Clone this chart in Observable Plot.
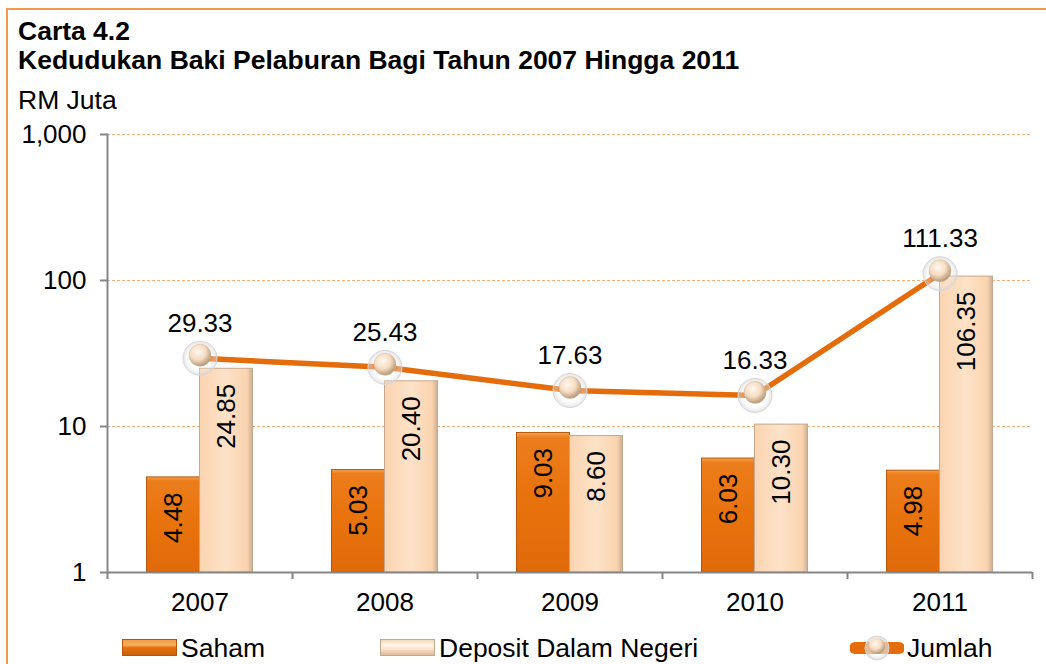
<!DOCTYPE html>
<html>
<head>
<meta charset="utf-8">
<script src="https://cdn.jsdelivr.net/npm/d3@7"></script>
<script src="https://cdn.jsdelivr.net/npm/@observablehq/plot@0.6"></script>
<style>
  html, body { margin: 0; padding: 0; background: #fff; }
  #page { position: relative; width: 1046px; height: 664px; overflow: hidden; font-family: Arial, "Liberation Sans", sans-serif; color: #000; }
  #frameL { position: absolute; left: 6px; top: 8px; width: 2px; height: 660px; background: #EE9A55; }
  #frameT { position: absolute; left: 6px; top: 8px; width: 1040px; height: 2px; background: #EE9A55; }
  .t { position: absolute; white-space: nowrap; font-size: 26.5px; line-height: 26px; }
  #chart { position: absolute; left: 0; top: 110px; }
  .leg { position: absolute; top: 634px; height: 28px; display: flex; align-items: center; font-size: 26.5px; white-space: nowrap; }
  .leg svg { margin-right: 3px; }
</style>
</head>
<body>
<div id="page">
  <div id="frameL"></div>
  <div id="frameT"></div>
  <div class="t" style="left:18px; top:18px; font-weight:bold;">Carta 4.2</div>
  <div class="t" style="left:18px; top:47px; font-weight:bold;">Kedudukan Baki Pelaburan Bagi Tahun 2007 Hingga 2011</div>
  <div class="t" style="left:18px; top:87px;">RM Juta</div>
  <div id="chart"></div>
  <div id="legend"></div>
</div>
<script>
// ---- data ----
const years = ["2007", "2008", "2009", "2010", "2011"];
const saham = [4.48, 5.03, 9.03, 6.03, 4.98];
const deposit = [24.85, 20.40, 8.60, 10.30, 106.35];
const jumlah = [29.33, 25.43, 17.63, 16.33, 111.33];
const yTicks = [1, 10, 100, 1000];
const gridTicks = [10, 100, 1000];
const seriesNames = ["Saham", "Deposit Dalam Negeri", "Jumlah"];

const data = years.map((y, i) => ({year: y, saham: saham[i], deposit: deposit[i], jumlah: jumlah[i]}));

const ORANGE = "#E46C0A";
const AXIS = "#868686";
const half = 92.5;   // half band (px)
const barW = 53;     // bar width (px)
const FONT = "Arial, 'Liberation Sans', sans-serif";

const plot = Plot.plot({
  width: 1046,
  height: 530,
  marginTop: 24,
  marginBottom: 68,
  marginLeft: 107,
  marginRight: 14,
  style: {fontFamily: FONT, fontSize: "26px", color: "#000", background: "transparent"},
  x: {type: "band", domain: years, padding: 0, label: null},
  y: {type: "log", domain: [1, 1000], label: null},
  marks: [
    Plot.ruleY(gridTicks, {stroke: "#F3B07A", strokeDasharray: "3,2", strokeWidth: 1}),
    Plot.barY(data, {x: "year", y1: () => 1, y2: "saham", insetLeft: half - barW, insetRight: half, fill: "url(#gSaham)", stroke: "#B4570C", strokeWidth: 1}),
    Plot.barY(data, {x: "year", y1: () => 1, y2: "deposit", insetLeft: half, insetRight: half - barW, fill: "url(#gDep)", stroke: "#C4A88E", strokeWidth: 1}),
    Plot.text(data, {x: "year", y: "saham", text: d => d.saham.toFixed(2), rotate: -90, textAnchor: "end", dx: -barW / 2, dy: 15, fontSize: 26, fill: "#000"}),
    Plot.text(data, {x: "year", y: "deposit", text: d => d.deposit.toFixed(2), rotate: -90, textAnchor: "end", dx: barW / 2, dy: 15, fontSize: 26, fill: "#000"}),
    Plot.ruleY([1], {stroke: AXIS, strokeWidth: 2}),
    Plot.frame({anchor: "left", stroke: AXIS, strokeWidth: 2}),
    Plot.axisY({ticks: yTicks, tickFormat: ",", tickSize: 7, tickPadding: 14, stroke: AXIS, strokeWidth: 2, fontSize: 26, fill: "#000", color: "#000", label: null}),
    Plot.axisX({tickSize: 0, tickPadding: 20, fontSize: 26, fill: "#000", color: "#000", label: null}),
    Plot.ruleX(years, {x: d => d, y1: () => 1, y2: () => 1, insetBottom: -7, dx: -half, stroke: AXIS, strokeWidth: 2}),
    Plot.ruleX(years.slice(-1), {x: d => d, y1: () => 1, y2: () => 1, insetBottom: -7, dx: half, stroke: AXIS, strokeWidth: 2}),
    Plot.line(data, {x: "year", y: "jumlah", stroke: ORANGE, strokeWidth: 5.5}),
    Plot.dot(data, {x: "year", y: "jumlah", r: 17, fill: "url(#gHalo)", stroke: "#D8D8D8", strokeWidth: 1}),
    Plot.dot(data, {x: "year", y: "jumlah", r: 11, dy: -3, fill: "url(#gBall)", stroke: "#C9B4A0", strokeWidth: 0.5}),
    Plot.text(data, {x: "year", y: "jumlah", text: d => d.jumlah.toFixed(2), dy: -35, fontSize: 26, fill: "#000"})
  ]
});

const defs = `
<linearGradient id="gSaham" x1="0" y1="0" x2="0" y2="1">
  <stop offset="0" stop-color="#F6A24E"/>
  <stop offset="0.04" stop-color="#EC7D1C"/>
  <stop offset="0.5" stop-color="#E8720C"/>
  <stop offset="1" stop-color="#E06A0A"/>
</linearGradient>
<linearGradient id="gDep" x1="0" y1="0" x2="1" y2="0">
  <stop offset="0" stop-color="#FBD4B0"/>
  <stop offset="0.5" stop-color="#FDE2C8"/>
  <stop offset="0.9" stop-color="#FAD3AE"/>
  <stop offset="1" stop-color="#C9AE96"/>
</linearGradient>
<radialGradient id="gHalo" cx="0.5" cy="0.5" r="0.5">
  <stop offset="0.6" stop-color="#FFFFFF" stop-opacity="0.2"/>
  <stop offset="1" stop-color="#D0D0D0" stop-opacity="0.6"/>
</radialGradient>
<radialGradient id="gBall" cx="0.4" cy="0.35" r="0.65">
  <stop offset="0" stop-color="#FFF8F0"/>
  <stop offset="0.55" stop-color="#F6DCC2"/>
  <stop offset="1" stop-color="#B89878"/>
</radialGradient>`;
d3.select(plot).insert("defs", ":first-child").html(defs);
document.getElementById("chart").appendChild(plot);

// ---- legend ----
const legend = document.getElementById("legend");
const legPos = [122, 380, 850];
const swatches = [
  `<svg width="56" height="18"><rect x="0.5" y="0.5" width="54" height="16" fill="url(#lgS)" stroke="#B4570C"/><defs><linearGradient id="lgS" x1="0" y1="0" x2="0" y2="1"><stop offset="0" stop-color="#F39A40"/><stop offset="0.35" stop-color="#F8B060"/><stop offset="0.5" stop-color="#E8720C"/><stop offset="1" stop-color="#C8600A"/></linearGradient></defs></svg>`,
  `<svg width="56" height="18"><rect x="0.5" y="0.5" width="54" height="16" fill="url(#lgD)" stroke="#C4A88E"/><defs><linearGradient id="lgD" x1="0" y1="0" x2="0" y2="1"><stop offset="0" stop-color="#F5D2B0"/><stop offset="0.35" stop-color="#FFF6EC"/><stop offset="0.6" stop-color="#FDE2C8"/><stop offset="1" stop-color="#D8B898"/></linearGradient></defs></svg>`,
  `<svg width="54" height="28"><line x1="5" y1="14" x2="49" y2="14" stroke="${ORANGE}" stroke-width="12" stroke-linecap="round"/><circle cx="27" cy="14" r="12" fill="url(#gHaloL)" stroke="#D8D8D8"/><circle cx="27" cy="12" r="8" fill="url(#gBallL)"/><defs><radialGradient id="gHaloL"><stop offset="0.6" stop-color="#FFFFFF" stop-opacity="0.5"/><stop offset="1" stop-color="#D0D0D0" stop-opacity="0.8"/></radialGradient><radialGradient id="gBallL" cx="0.4" cy="0.35" r="0.65"><stop offset="0" stop-color="#FFF8F0"/><stop offset="0.55" stop-color="#F6DCC2"/><stop offset="1" stop-color="#B89878"/></radialGradient></defs></svg>`
];
seriesNames.forEach((name, i) => {
  const div = document.createElement("div");
  div.className = "leg";
  div.style.left = legPos[i] + "px";
  div.innerHTML = swatches[i] + `<span>${name}</span>`;
  legend.appendChild(div);
});
</script>
</body>
</html>
